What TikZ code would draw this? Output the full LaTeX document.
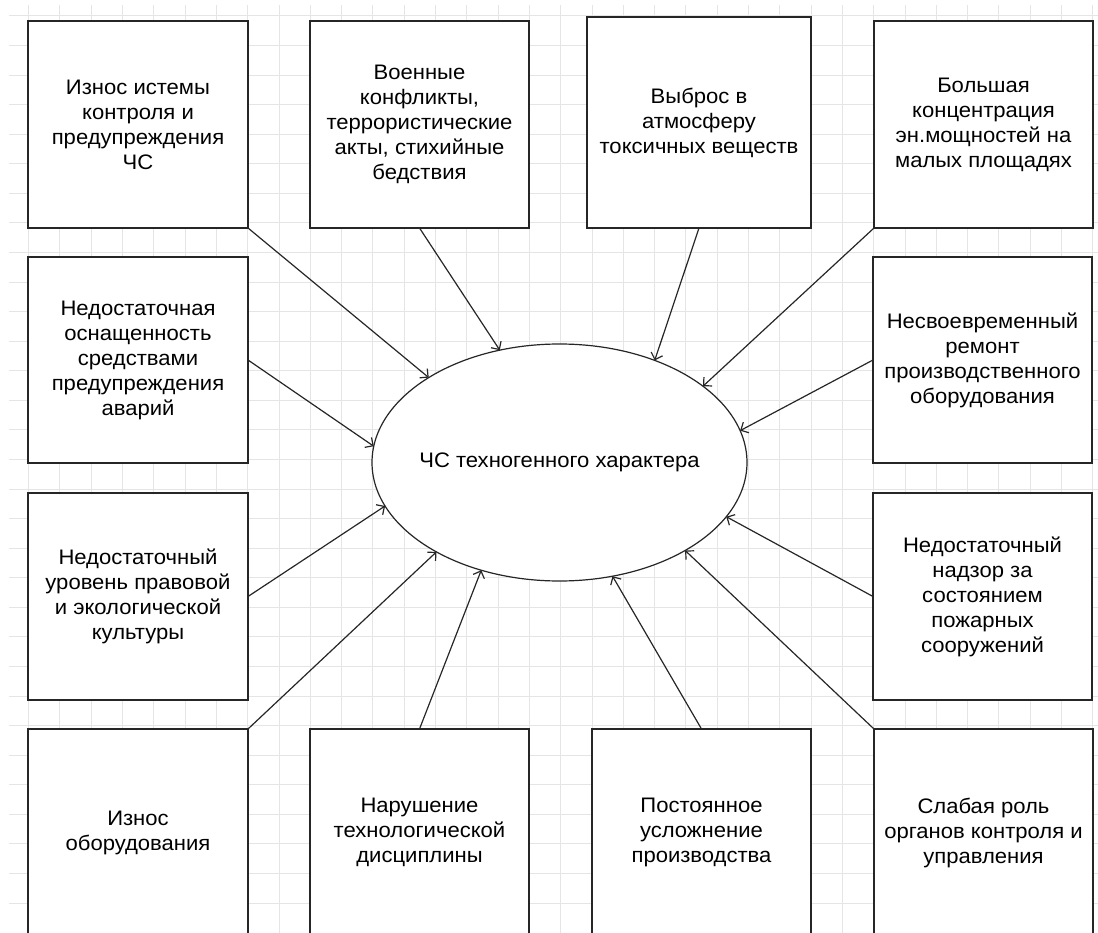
\documentclass[tikz,border=0pt]{standalone}
\usepackage{fontspec}
\setmainfont{Liberation Sans}[FakeStretch=1.05]
\usetikzlibrary{shapes.geometric,arrows.meta}
\begin{document}
\begin{tikzpicture}[x=1pt, y=-1pt,
    factor/.style={draw=black!85, line width=1.2pt, fill=white, minimum width=220pt, minimum height=207pt, inner sep=0pt, outer sep=0pt, align=center, font=\fontsize{21}{25}\selectfont},
    cause/.style={draw=black!85, line width=1.2pt, -{Straight Barb[length=6pt,width=12pt]}}]
    \useasboundingbox (0,0) rectangle (1098,933);
    \foreach \k in {0,...,30}
        \draw[gray!20, line width=1pt] (9, 16+29.57*\k) -- (1098, 16+29.57*\k);
    \foreach \k in {0,...,34}
        \draw[gray!20, line width=1pt] (28.6+31.3*\k, 5) -- (28.6+31.3*\k, 933);
    \node[factor] (wear) at (138, 124.5) {Износ истемы\\контроля и\\предупреждения\\ЧС};
    \node[factor, minimum width=219pt] (war) at (419.5, 124.5) {Военные\\конфликты,\\террористические\\акты, стихийные\\бедствия};
    \node[factor, minimum width=224pt, minimum height=211pt] (toxic) at (699, 122.5) {Выброс в\\атмосферу\\токсичных веществ};
    \node[factor, minimum width=219pt] (power) at (983.5, 124.5) {Большая\\концентрация\\эн.мощностей на\\малых площадях};
    \node[factor, minimum height=206pt] (equip) at (138, 360) {Недостаточная\\оснащенность\\средствами\\предупреждения\\аварий};
    \node[factor] (culture) at (138, 596.5) {Недостаточный\\уровень правовой\\и экологической\\культуры};
    \node[factor, minimum width=219pt, minimum height=206pt] (repair) at (982.5, 360) {Несвоевременный\\ремонт\\производственного\\оборудования};
    \node[factor, minimum width=219pt] (fire) at (982.5, 596.5) {Недостаточный\\надзор за\\состоянием\\пожарных\\сооружений};
    \node[factor] (worn) at (138, 832.5) {Износ\\оборудования};
    \node[factor, minimum width=219pt] (disc) at (419.5, 832.5) {Нарушение\\технологической\\дисциплины};
    \node[factor, minimum width=219pt] (compl) at (701.5, 832.5) {Постоянное\\усложнение\\производства};
    \node[factor, minimum width=219pt] (weak) at (983.5, 832.5) {Слабая роль\\органов контроля и\\управления};
    \node[ellipse, draw=black!85, line width=1.2pt, fill=white, minimum width=375pt, minimum height=237pt, inner sep=0pt, outer sep=0pt,
        label={[font=\fontsize{21}{25}\selectfont]center:ЧС техногенного характера}] (chs) at (559.5, 462.5) {};
    \draw[cause] (wear.south east) -- (chs.147.2);
    \draw[cause] (war.south) -- (chs.118.9);
    \draw[cause] (toxic.south) -- (chs.47.9);
    \draw[cause] (power.south west) -- (chs.28.2);
    \draw[cause] (equip.east) -- (chs.175.5);
    \draw[cause] (culture.east) -- (chs.194.5);
    \draw[cause] (repair.west) -- (chs.10.1);
    \draw[cause] (fire.west) -- (chs.-18.4);
    \draw[cause] (worn.north east) -- (chs.-144.4);
    \draw[cause] (disc.north) -- (chs.-126.3);
    \draw[cause] (compl.north) -- (chs.-65.7);
    \draw[cause] (weak.north west) -- (chs.-35.4);
\end{tikzpicture}
\end{document}
